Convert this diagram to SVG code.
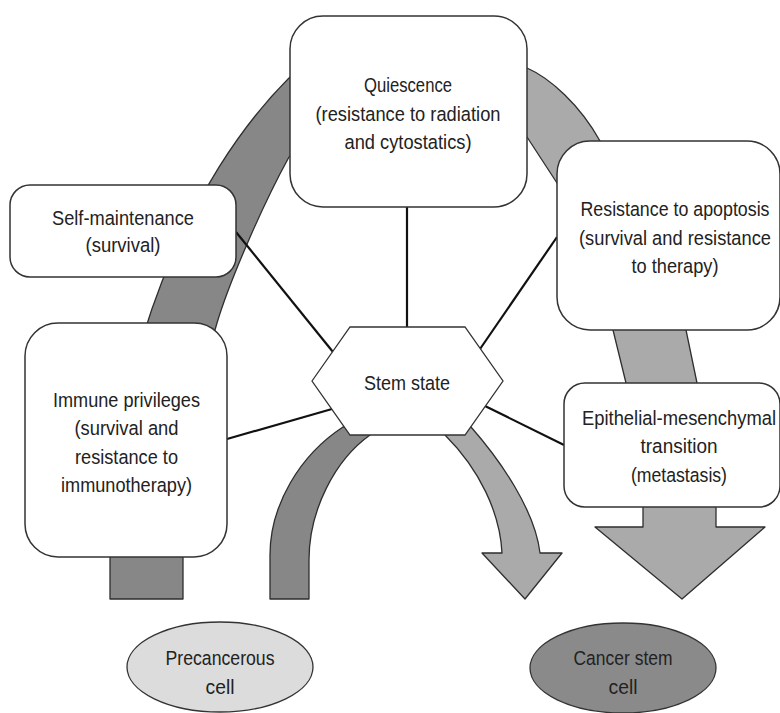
<svg xmlns="http://www.w3.org/2000/svg" width="780" height="713" viewBox="0 0 780 713">
  <style>
    .box { fill: #ffffff; stroke: #333333; stroke-width: 1.5; }
    .band { stroke: #2e2e2e; stroke-width: 1.3; stroke-linejoin: round; }
    .dark { fill: #878787; }
    .light { fill: #aaaaaa; }
    .link { stroke: #111111; stroke-width: 2.2; fill: none; }
    .lbl { font-family: "Liberation Sans", Arial, sans-serif; font-size: 20.5px; fill: #222222; text-anchor: middle; }
  </style>

  <!-- broad flow bands drawn first so the nodes sit on top of them -->
  <g id="flows">
    <path id="outer-rise" class="band dark" d="M110,599 L110,560 C110,360 189,178 289,78 L322,52 L322,135 L289,157 C261.5,207 229,283 217,323 C199,383 183,480 183,557 L183,599 Z"/>
    <path id="outer-fall" class="band light" d="M505,60 L527,68 C550,78 580,105 600,141 L686,330 L697,383 L716,507 L716,527 L765,527 L682,599 L595,527 L643,527 L643,507 L626,383 L613,330 L557,183 L527,137 L505,130 Z"/>
    <path id="inner-rise" class="band dark" d="M270,599 L270,555 C270,505 300,455 343,427 L375,420 L370,435 C335,460 309,510 309,560 L309,599 Z"/>
    <path id="inner-fall" class="band light" d="M445,435 C480,470 500,513 502,553 L482,553 L525,599 L562,553 L540,553 C535,510 500,460 471,427 L455,420 Z"/>
  </g>

  <g id="connectors">
    <line class="link" x1="236" y1="232" x2="333" y2="352"/>
    <line class="link" x1="407" y1="207" x2="407" y2="327"/>
    <line class="link" x1="557" y1="237" x2="480" y2="349"/>
    <line class="link" x1="227" y1="439" x2="332" y2="409"/>
    <line class="link" x1="485" y1="406" x2="564" y2="445"/>
  </g>

  <g id="quiescence">
    <rect class="box" x="290" y="16" width="237" height="191" rx="33"/>
    <text class="lbl" x="408" y="92" textLength="88" lengthAdjust="spacingAndGlyphs">Quiescence</text>
    <text class="lbl" x="408" y="120.5" textLength="185" lengthAdjust="spacingAndGlyphs">(resistance to radiation</text>
    <text class="lbl" x="408" y="149" textLength="127" lengthAdjust="spacingAndGlyphs">and cytostatics)</text>
  </g>

  <g id="self-maintenance">
    <rect class="box" x="10" y="185" width="226" height="92" rx="20"/>
    <text class="lbl" x="123" y="225" textLength="142" lengthAdjust="spacingAndGlyphs">Self-maintenance</text>
    <text class="lbl" x="123" y="252" textLength="75" lengthAdjust="spacingAndGlyphs">(survival)</text>
  </g>

  <g id="apoptosis">
    <rect class="box" x="557" y="141" width="223" height="189" rx="33"/>
    <text class="lbl" x="675" y="216" textLength="189" lengthAdjust="spacingAndGlyphs">Resistance to apoptosis</text>
    <text class="lbl" x="675" y="244.5" textLength="192" lengthAdjust="spacingAndGlyphs">(survival and resistance</text>
    <text class="lbl" x="675" y="273" textLength="87" lengthAdjust="spacingAndGlyphs">to therapy)</text>
  </g>

  <g id="immune">
    <rect class="box" x="25" y="323" width="202" height="234" rx="33"/>
    <text class="lbl" x="126.5" y="407" textLength="147" lengthAdjust="spacingAndGlyphs">Immune privileges</text>
    <text class="lbl" x="126.5" y="435" textLength="104" lengthAdjust="spacingAndGlyphs">(survival and</text>
    <text class="lbl" x="126.5" y="463.5" textLength="103" lengthAdjust="spacingAndGlyphs">resistance to</text>
    <text class="lbl" x="126.5" y="492" textLength="131" lengthAdjust="spacingAndGlyphs">immunotherapy)</text>
  </g>

  <g id="emt">
    <rect class="box" x="564" y="383" width="216" height="124" rx="21"/>
    <text class="lbl" x="679" y="424.5" textLength="194" lengthAdjust="spacingAndGlyphs">Epithelial-mesenchymal</text>
    <text class="lbl" x="679" y="453" textLength="77" lengthAdjust="spacingAndGlyphs">transition</text>
    <text class="lbl" x="679" y="481.5" textLength="96" lengthAdjust="spacingAndGlyphs">(metastasis)</text>
  </g>

  <g id="stem-state">
    <polygon class="box" points="312,381 350,327 465,327 503,381 465,435 350,435" style="stroke-width:1.3"/>
    <text class="lbl" x="407" y="389.5" textLength="86" lengthAdjust="spacingAndGlyphs">Stem state</text>
  </g>

  <g id="precancerous">
    <ellipse cx="220" cy="667" rx="93" ry="45" fill="#dcdcdc" stroke="#333333" stroke-width="1.3"/>
    <text class="lbl" x="220" y="665" textLength="109" lengthAdjust="spacingAndGlyphs">Precancerous</text>
    <text class="lbl" x="220" y="693.5" textLength="29" lengthAdjust="spacingAndGlyphs">cell</text>
  </g>

  <g id="cancer-stem">
    <ellipse cx="623" cy="668" rx="93" ry="45" fill="#8a8a8a" stroke="#333333" stroke-width="1.3"/>
    <text class="lbl" x="623" y="665" textLength="99" lengthAdjust="spacingAndGlyphs">Cancer stem</text>
    <text class="lbl" x="623" y="693.5" textLength="29" lengthAdjust="spacingAndGlyphs">cell</text>
  </g>
</svg>
